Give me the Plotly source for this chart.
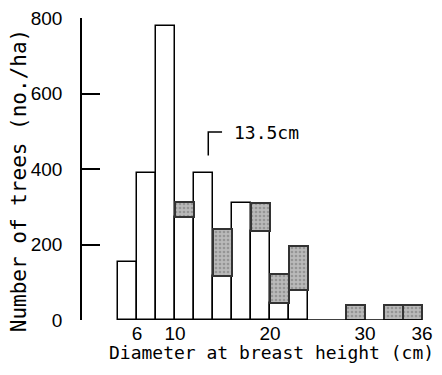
import plotly.graph_objects as go

# DBH classes (lower edge, cm), 2-cm wide
class_lower = [4, 6, 8, 10, 12, 14, 16, 18, 20, 22, 24, 26, 28, 30, 32, 34]
white_vals = [154, 390, 778, 272, 390, 116, 311, 236, 46, 79, 0, 0, 0, 0, 0, 0]
gray_vals = [0, 0, 0, 41, 0, 124, 0, 75, 76, 117, 0, 0, 40, 0, 40, 40]
class_width = 2

x_tickvals = [6, 10, 20, 30, 36]
x_ticktext = ["6", "10", "20", "30", "36"]
y_tickvals = [0, 200, 400, 600, 800]

marker_dbh = 13.5
marker_label = "13.5cm"

x_title = "Diameter at breast height (cm)"
y_title = "Number of trees (no./ha)"

tick_font = dict(family="Liberation Sans, Arial, sans-serif", size=19, color="black")
title_font = dict(family="DejaVu Sans Mono, Liberation Mono, monospace", size=18, color="black")

fig = go.Figure()

wx = [c + class_width / 2 for c, v in zip(class_lower, white_vals) if v > 0]
wy = [v for v in white_vals if v > 0]
fig.add_trace(go.Bar(
    x=wx, y=wy, width=class_width,
    marker=dict(color="white", line=dict(color="black", width=1.5)),
    showlegend=False,
))

gx, gy, gb = [], [], []
for c, w, g in zip(class_lower, white_vals, gray_vals):
    if g > 0:
        gx.append(c + class_width / 2)
        gy.append(g)
        gb.append(w)
fig.add_trace(go.Bar(
    x=gx, y=gy, base=gb, width=class_width,
    marker=dict(color="#b4b4b4", line=dict(color="#333333", width=2),
                pattern=dict(shape=".", bgcolor="#bababa", fgcolor="#707070", size=4, solidity=0.35)),
    showlegend=False,
))

# baseline (x axis line) spanning the DBH classes
fig.add_shape(type="line", xref="x", yref="y",
              x0=class_lower[0], x1=class_lower[-1] + class_width, y0=0, y1=0,
              line=dict(color="black", width=1.5))

# 13.5 cm marker bracket
fig.add_shape(type="path", xref="x", yref="y",
              path=f"M {marker_dbh} 436 L {marker_dbh} 498 L {marker_dbh + 1.45} 498",
              line=dict(color="black", width=1.5))
fig.add_annotation(x=marker_dbh + 2.5, y=496, xref="x", yref="y",
                   text=marker_label, showarrow=False, xanchor="left", yanchor="middle",
                   font=title_font)

# axis titles
fig.add_annotation(x=0.525, y=-0.109, xref="paper", yref="paper", text=x_title,
                   showarrow=False, xanchor="center", yanchor="middle", font=title_font)
fig.add_annotation(x=-0.175, y=0.4595, xref="paper", yref="paper", text=y_title,
                   showarrow=False, xanchor="center", yanchor="middle", textangle=-90,
                   font=dict(title_font, size=21))

fig.update_layout(
    width=442, height=375,
    margin=dict(l=82, r=0, t=17.5, b=55, autoexpand=False),
    paper_bgcolor="white", plot_bgcolor="white",
    barmode="overlay", bargap=0,
    xaxis=dict(range=[0.21, 38.1], tickvals=x_tickvals, ticktext=x_ticktext,
               ticks="", showgrid=False, zeroline=False, showline=False,
               tickfont=tick_font, ticklabelstandoff=0),
    yaxis=dict(range=[0, 800], tickvals=y_tickvals, ticks="inside", ticklen=18,
               tickwidth=1.5, tickcolor="black",
               showgrid=False, zeroline=False, showline=True, linecolor="black", linewidth=1.5,
               tickfont=tick_font, ticklabelstandoff=14),
)

fig.write_html("out.html")
